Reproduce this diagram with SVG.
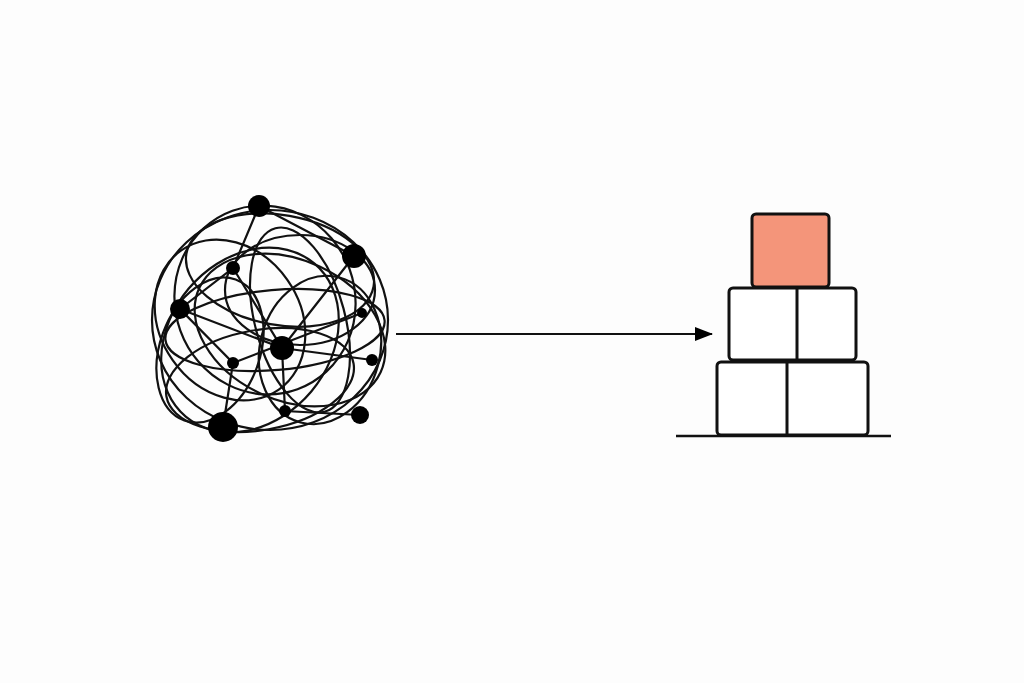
<svg xmlns="http://www.w3.org/2000/svg" width="1024" height="683" viewBox="0 0 1024 683">
<style>
.t{fill:none;stroke:#111;stroke-width:2.2}
.b{fill:#fff;stroke:#111;stroke-width:3}
.d{fill:#000}
</style>
<defs><marker id="ah" markerWidth="10" markerHeight="10" refX="9" refY="5" orient="auto" markerUnits="userSpaceOnUse"><path d="M0,0 L18,5 L0,10 Z" transform="scale(1)" fill="#000"/></marker>
<marker id="a2" viewBox="0 0 18 14" refX="17" refY="7" markerWidth="18" markerHeight="14" orient="auto" markerUnits="userSpaceOnUse"><path d="M0,0 L18,7 L0,14 Z" fill="#000"/></marker></defs>
<rect width="1024" height="683" fill="#fdfdfd"/>
<g id="tangle">
<ellipse class="t" cx="270" cy="320" rx="118" ry="110"/>
<ellipse class="t" cx="265" cy="300" rx="90" ry="95" transform="rotate(-20 265 300)"/>
<ellipse class="t" cx="290" cy="330" rx="100" ry="70" transform="rotate(25 290 330)"/>
<ellipse class="t" cx="250" cy="340" rx="80" ry="100" transform="rotate(40 250 340)"/>
<ellipse class="t" cx="300" cy="290" rx="75" ry="55"/>
<ellipse class="t" cx="230" cy="320" rx="70" ry="85" transform="rotate(-35 230 320)"/>
<ellipse class="t" cx="320" cy="350" rx="60" ry="75" transform="rotate(15 320 350)"/>
<ellipse class="t" cx="260" cy="380" rx="95" ry="50" transform="rotate(-10 260 380)"/>
<ellipse class="t" cx="280" cy="270" rx="95" ry="55" transform="rotate(10 280 270)"/>
<ellipse class="t" cx="275" cy="330" rx="110" ry="40" transform="rotate(-5 275 330)"/>
<ellipse class="t" cx="300" cy="320" rx="45" ry="95" transform="rotate(-15 300 320)"/>
<ellipse class="t" cx="210" cy="350" rx="50" ry="75" transform="rotate(20 210 350)"/>
<path class="t" d="M259,206 L233,268 L180,309 L233,363 L223,427 M233,268 L282,348 L354,256 M180,309 L282,348 L372,360 M282,348 L285,411 L360,415 M233,363 L362,313 M259,206 L354,256"/>
<circle class="d" cx="259" cy="206" r="11"/>
<circle class="d" cx="354" cy="256" r="12"/>
<circle class="d" cx="233" cy="268" r="7"/>
<circle class="d" cx="180" cy="309" r="10"/>
<circle class="d" cx="282" cy="348" r="12"/>
<circle class="d" cx="362" cy="313" r="5"/>
<circle class="d" cx="372" cy="360" r="6"/>
<circle class="d" cx="233" cy="363" r="6"/>
<circle class="d" cx="285" cy="411" r="6"/>
<circle class="d" cx="360" cy="415" r="9"/>
<circle class="d" cx="223" cy="427" r="15"/>
</g>
<g id="connectors">
<line x1="396" y1="334" x2="712" y2="334" stroke="#111" stroke-width="2.2" marker-end="url(#a2)"/>
</g>
<g id="stack">
<rect class="b" x="752" y="214" width="77" height="73" rx="4" fill="#F4957A" style="fill:#F4957A"/>
<rect class="b" x="729" y="288" width="127" height="72" rx="4"/>
<line x1="797" y1="288" x2="797" y2="360" stroke="#111" stroke-width="3"/>
<rect class="b" x="717" y="362" width="151" height="73" rx="4"/>
<line x1="787" y1="362" x2="787" y2="435" stroke="#111" stroke-width="3"/>
<line x1="676" y1="436" x2="891" y2="436" stroke="#111" stroke-width="2.5"/>
</g>
</svg>
